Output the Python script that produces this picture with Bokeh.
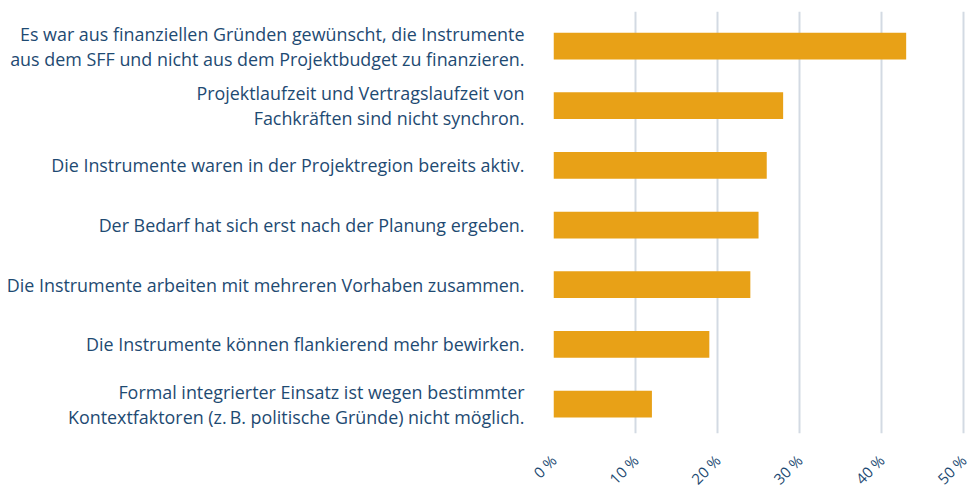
from math import pi
from bokeh.plotting import figure
from bokeh.models import Range1d, FixedTicker, ColumnDataSource
from bokeh.embed import file_html
from bokeh.resources import INLINE

categories = [
    "Es war aus finanziellen Gründen gewünscht, die Instrumente\naus dem SFF und nicht aus dem Projektbudget zu finanzieren.",
    "Projektlaufzeit und Vertragslaufzeit von\nFachkräften sind nicht synchron.",
    "Die Instrumente waren in der Projektregion bereits aktiv.",
    "Der Bedarf hat sich erst nach der Planung ergeben.",
    "Die Instrumente arbeiten mit mehreren Vorhaben zusammen.",
    "Die Instrumente können flankierend mehr bewirken.",
    "Formal integrierter Einsatz ist wegen bestimmter\nKontextfaktoren (z.\u2009B. politische Gründe) nicht möglich.",
]
values = [43, 28, 26, 25, 24, 19, 12]
tick_values = [0, 10, 20, 30, 40, 50]
tick_labels = ["0 %", "10 %", "20 %", "30 %", "40 %", "50 %"]

TEXT = "#1e4a72"
BAR = "#e8a117"
GRID = "#d3dae3"
FONT = "Open Sans"

positions = list(range(len(categories)))
src = ColumnDataSource(dict(pos=positions, val=values))

p = figure(
    y_range=Range1d(len(categories) - 0.507, -0.579),
    x_range=Range1d(0, 50.6),
    frame_width=415, frame_height=422,
    min_border_left=553, min_border_right=6, min_border_top=11, min_border_bottom=0,
    output_backend="svg", toolbar_location=None,
)
p.outline_line_color = None
p.background_fill_color = "white"
p.border_fill_color = "white"

p.hbar(y="pos", right="val", left=0, height=0.448, source=src,
       fill_color=BAR, line_color=None)

p.xaxis.ticker = FixedTicker(ticks=tick_values)
p.xaxis.major_label_overrides = {v: l for v, l in zip(tick_values, tick_labels)}
p.xaxis.major_label_orientation = pi / 4
p.xaxis.axis_line_color = None
p.xaxis.major_tick_line_color = None
p.xaxis.minor_tick_line_color = None
p.xaxis.major_label_text_color = TEXT
p.xaxis.major_label_text_font = FONT
p.xaxis.major_label_text_font_size = "15px"
p.xaxis.major_label_standoff = 18

p.yaxis.ticker = FixedTicker(ticks=positions)
p.yaxis.major_label_overrides = {i: c for i, c in zip(positions, categories)}
p.yaxis.axis_line_color = None
p.yaxis.major_tick_line_color = None
p.yaxis.minor_tick_line_color = None
p.yaxis.major_label_text_color = TEXT
p.yaxis.major_label_text_font = FONT
p.yaxis.major_label_text_font_size = "17.9px"
p.yaxis.major_label_text_line_height = 1.04
p.yaxis.major_label_standoff = 23

p.xgrid.grid_line_color = GRID
p.xgrid.grid_line_width = 2
p.ygrid.grid_line_color = None

open("out.html", "w").write(file_html(p, INLINE))
